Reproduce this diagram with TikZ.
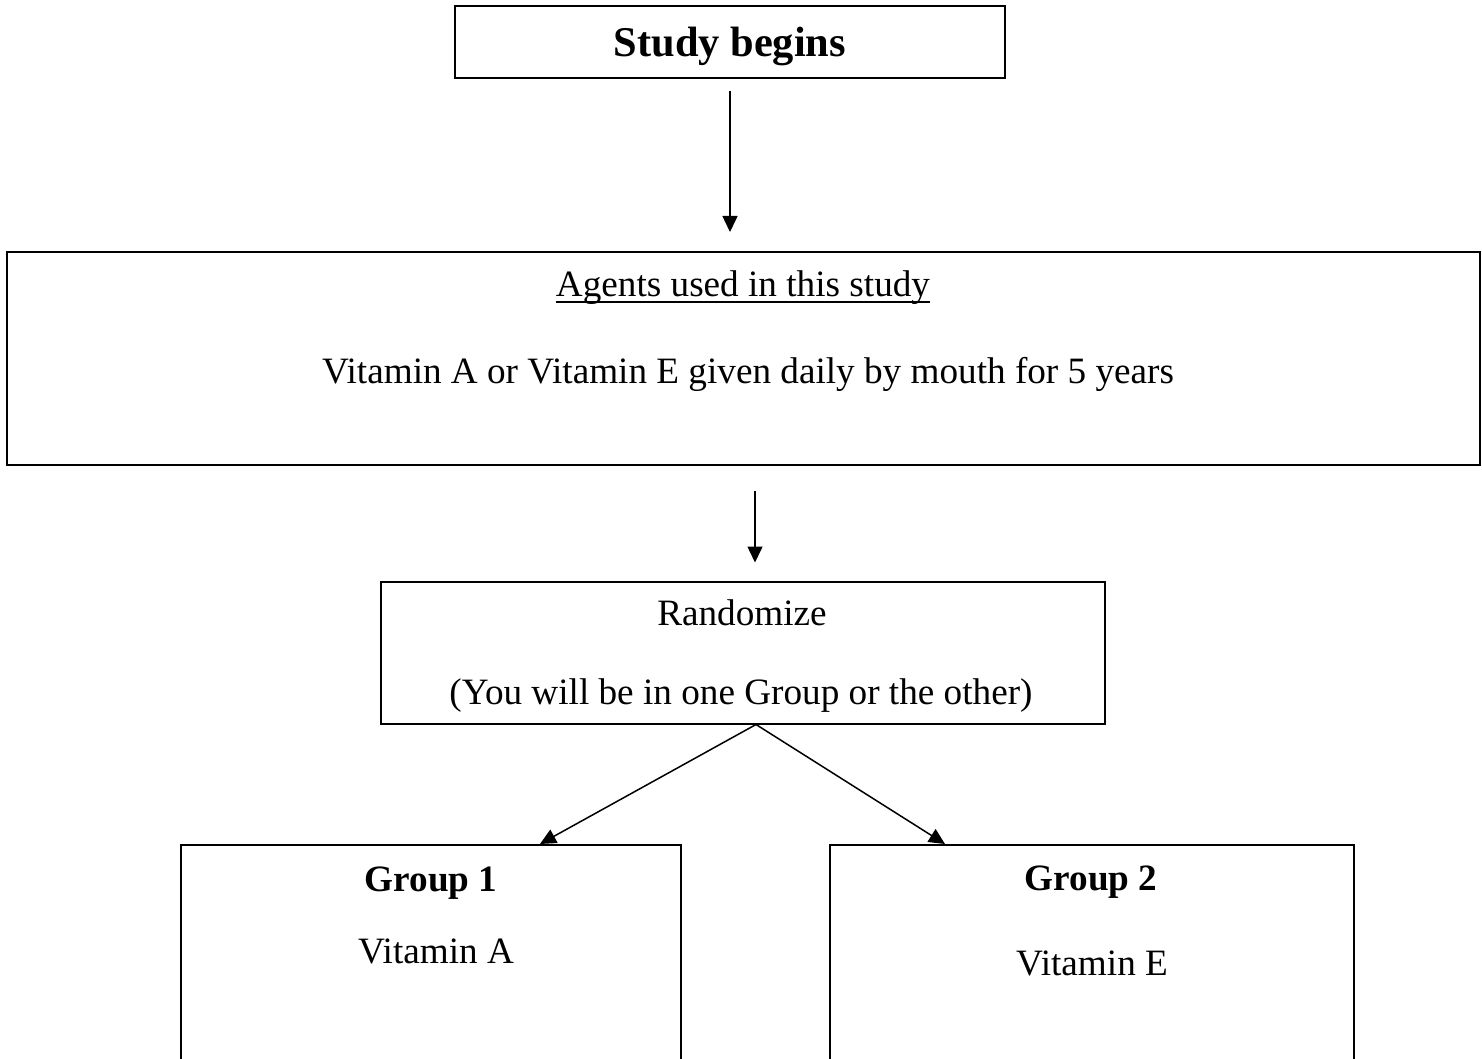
\documentclass[tikz,border=0pt]{standalone}
\usepackage{fontspec}
\setmainfont{Liberation Serif}
\usetikzlibrary{arrows.meta,calc}
\tikzset{
  boxnode/.style={draw, line width=1pt, inner sep=0pt, rectangle},
  txt/.style={inner sep=0pt, anchor=base, font=\fontsize{18.6pt}{22pt}\selectfont},
  boldtxt/.style={txt, font=\fontsize{18.6pt}{22pt}\selectfont\bfseries},
  titletxt/.style={txt, font=\fontsize{21.2pt}{25pt}\selectfont\bfseries},
  arr/.style={line width=0.75pt, -{Triangle[width=7.5pt,length=8pt]}}
}
\begin{document}
\begin{tikzpicture}[x=0.5pt,y=-0.5pt]
\clip (0,0) rectangle (1482,1059);
% boxes
\node[boxnode, minimum width=275pt, minimum height=36pt] (st) at (730,42) {};
\node[boxnode, minimum width=736.5pt, minimum height=106.5pt] (ag) at (743.5,358.5) {};
\node[boxnode, minimum width=362pt, minimum height=71pt] (rn) at (743,652.5) {};
\node[boxnode, minimum width=250pt, minimum height=127.5pt] (g1) at (431,972.5) {};
\node[boxnode, minimum width=262pt, minimum height=127.5pt] (g2) at (1092,972.5) {};
% texts
\node[titletxt] (tst) at (730,57) {Study begins};
\node[txt] (tag) at (743,296) {Agents used in this study};
\draw[line width=0.75pt] ([yshift=-3pt]tag.base west) -- ([yshift=-3pt]tag.base east);
\node[txt] (tvit) at (748,383) {Vitamin A or Vitamin E given daily by mouth for 5 years};
\node[txt] (trn) at (742,625) {Randomize};
\node[txt] (trn2) at (741,704) {(You will be in one Group or the other)};
\node[boldtxt] (tg1) at (431,891) {Group 1};
\node[txt] (tg1b) at (436,963) {Vitamin A};
\node[boldtxt] (tg2) at (1091,890) {Group 2};
\node[txt] (tg2b) at (1092,975) {Vitamin E};
% connectors
\draw[arr, shorten <=6pt, shorten >=9.5pt] (st.south) -- (st.south |- ag.north);
\coordinate (a2) at ($(ag.south)+(11.5,0)$);
\draw[arr, shorten <=12.5pt, shorten >=9pt] (a2) -- (a2 |- rn.north);
\coordinate (split) at ($(rn.south)+(13,0)$);
\coordinate (e1) at ($(g1.north)+(109,0)$);
\coordinate (e2) at ($(g2.north)+(-147,0)$);
\draw[arr] (split) -- (e1);
\draw[arr] (split) -- (e2);
\end{tikzpicture}
\end{document}
